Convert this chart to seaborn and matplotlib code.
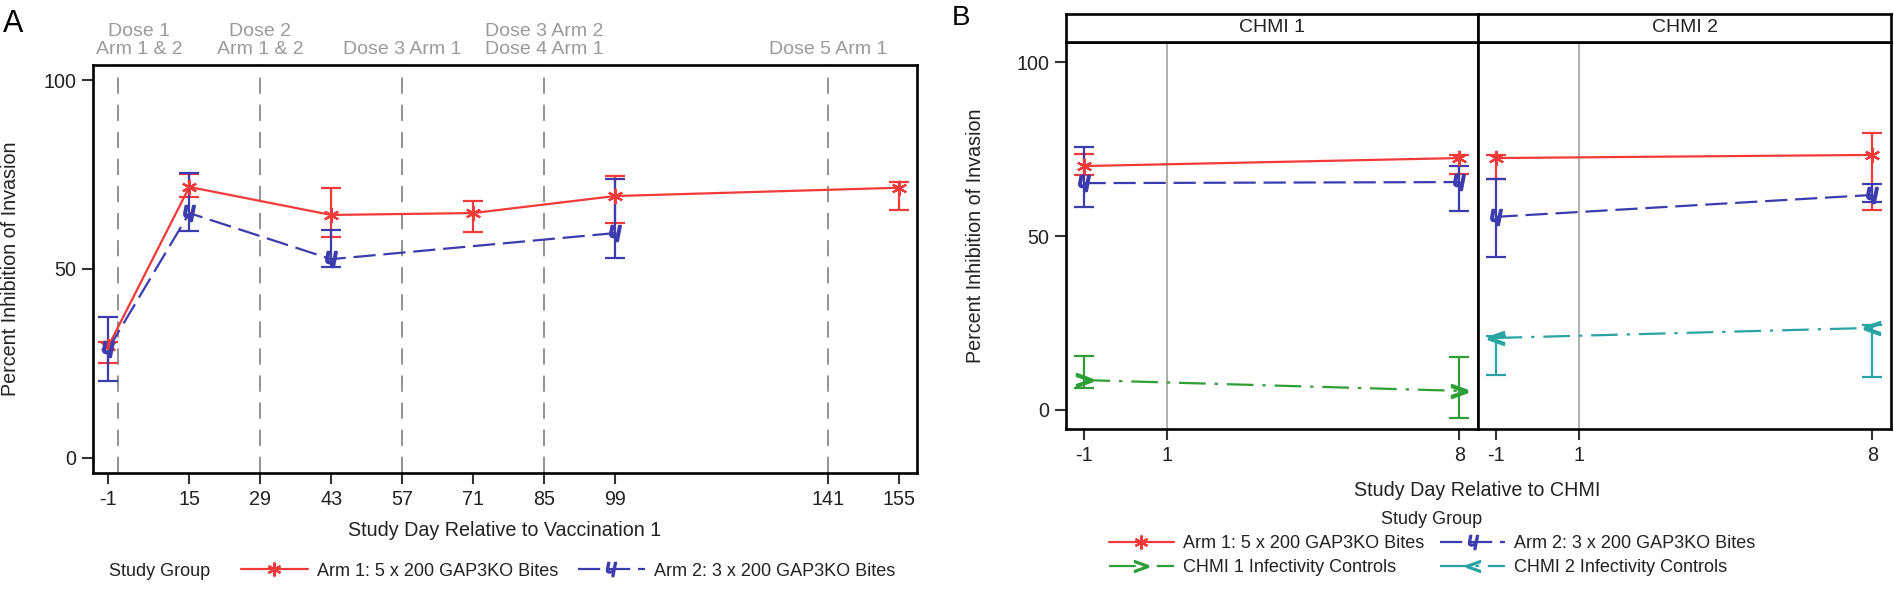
import matplotlib
matplotlib.use('Agg')
import matplotlib.pyplot as plt
import matplotlib.transforms as mtransforms
from matplotlib.lines import Line2D
import pandas as pd
import seaborn as sns

# ---- data: panel A (study day relative to vaccination 1) ----
arm1_label = 'Arm 1: 5 x 200 GAP3KO Bites'
arm2_label = 'Arm 2: 3 x 200 GAP3KO Bites'
ctrl1_label = 'CHMI 1 Infectivity Controls'
ctrl2_label = 'CHMI 2 Infectivity Controls'

days_arm1 = [-1, 15, 43, 71, 99, 155]
arm1_mean = [29.5, 71.7, 64.3, 64.8, 69.3, 71.5]
arm1_lo = [25.1, 69.0, 58.5, 59.8, 62.2, 65.6]
arm1_hi = [30.6, 75.1, 71.5, 68.0, 74.6, 73.0]

days_arm2 = [-1, 15, 43, 99]
arm2_mean = [28.8, 64.8, 52.6, 59.5]
arm2_lo = [20.4, 60.0, 50.5, 53.0]
arm2_hi = [37.3, 75.4, 60.3, 73.8]

dose_days = [1, 29, 57, 85, 141]
dose_labels = ['Dose 1\nArm 1 & 2', 'Dose 2\nArm 1 & 2', 'Dose 3 Arm 1',
               'Dose 3 Arm 2\nDose 4 Arm 1', 'Dose 5 Arm 1']
xticks_a = [-1, 15, 29, 43, 57, 71, 85, 99, 141, 155]

# ---- data: panel B (study day relative to CHMI) ----
chmi_days = [-1, 8]
facets = ['CHMI 1', 'CHMI 2']
arm1_chmi = {'CHMI 1': [70.1, 72.4], 'CHMI 2': [72.4, 73.3]}
arm1_chmi_lo = {'CHMI 1': [67.5, 67.8], 'CHMI 2': [66.4, 57.5]}
arm1_chmi_hi = {'CHMI 1': [73.6, 73.2], 'CHMI 2': [73.2, 79.6]}
arm2_chmi = {'CHMI 1': [65.2, 65.5], 'CHMI 2': [55.5, 61.8]}
arm2_chmi_lo = {'CHMI 1': [58.3, 57.2], 'CHMI 2': [44.0, 59.8]}
arm2_chmi_hi = {'CHMI 1': [75.6, 70.1], 'CHMI 2': [66.4, 65.0]}
ctrl_chmi = {'CHMI 1': [8.6, 5.5], 'CHMI 2': [20.7, 23.6]}
ctrl_chmi_lo = {'CHMI 1': [6.3, -2.3], 'CHMI 2': [10.0, 9.5]}
ctrl_chmi_hi = {'CHMI 1': [15.5, 15.2], 'CHMI 2': [21.4, 24.3]}

RED, BLUE, GREEN, TEAL = '#f23a3a', '#3c3cae', '#2e9e36', '#2aa3a3'
TXT = '#222222'
W, H = 1894, 598
FS_TICK = 14.2
FS_LEG = 13

sns.set_theme(style='ticks')
plt.rcParams['font.family'] = ['Liberation Sans', 'DejaVu Sans']
plt.rcParams['text.color'] = TXT
plt.rcParams['axes.unicode_minus'] = False

fig = plt.figure(figsize=(W / 100, H / 100), dpi=100)


def px_axes(left, top, right, bottom):
    return fig.add_axes([left / W, 1 - bottom / H, (right - left) / W, (bottom - top) / H])


def style_axes(ax):
    for s in ax.spines.values():
        s.set_visible(True)
        s.set_color('black')
        s.set_linewidth(1.9)
    ax.tick_params(length=8, width=1.5, pad=4, labelsize=FS_TICK, colors=TXT, color='#333333')


def draw_points(ax, x, y, lo, hi, color, marker):
    ax.errorbar(x, y, yerr=[[a - b for a, b in zip(y, lo)], [b - a for a, b in zip(y, hi)]],
                fmt='none', ecolor=color, elinewidth=1.6, capsize=7, capthick=1.6, zorder=3)
    ax.plot(x, y, ls='none', marker=marker, ms=11, mew=1.6, color=color, zorder=4)


M_ARM1 = (6, 2, 0)
M_ARM2 = '$\u0265$'

# ---------------- panel A ----------------
df_a = pd.concat([
    pd.DataFrame({'day': days_arm1, 'pct': arm1_mean, 'group': arm1_label}),
    pd.DataFrame({'day': days_arm2, 'pct': arm2_mean, 'group': arm2_label}),
])
ax = px_axes(93, 65, 917, 473)
for d in dose_days:
    ax.axvline(d, color='#8a8a8a', lw=1.3, ls=(0, (9, 6)), zorder=0)
sns.lineplot(data=df_a, x='day', y='pct', hue='group', style='group',
             palette={arm1_label: RED, arm2_label: BLUE},
             dashes={arm1_label: '', arm2_label: (10, 3.5)},
             lw=1.6, ax=ax, legend=False, sort=False, errorbar=None)
draw_points(ax, days_arm1, arm1_mean, arm1_lo, arm1_hi, RED, M_ARM1)
draw_points(ax, days_arm2, arm2_mean, arm2_lo, arm2_hi, BLUE, M_ARM2)
ax.set_xlim(-4, 158.6)
ax.set_ylim(-3.97, 103.97)
ax.set_xticks(xticks_a)
ax.set_yticks([0, 50, 100])
style_axes(ax)
ax.set_xlabel('Study Day Relative to Vaccination 1', fontsize=FS_TICK, color=TXT)
ax.set_ylabel('Percent Inhibition of Invasion', fontsize=FS_TICK, color=TXT)
ax.xaxis.set_label_coords(0.5, -0.118)
ax.yaxis.set_label_coords(-0.088, 0.5)

trans = mtransforms.blended_transform_factory(ax.transData, ax.transAxes)
for i, (d, lab) in enumerate(zip(dose_days, dose_labels)):
    dx = 15 if i == 0 else 0
    ax.annotate(lab, xy=(d, 1.0), xycoords=trans, xytext=(dx, 5), textcoords='offset points',
                ha='center', va='bottom', fontsize=14, color='#9a9a9a',
                multialignment='center', linespacing=1.1)

fig.text(109 / W, 1 - 571 / H, 'Study Group', fontsize=FS_LEG, va='center', ha='left')
handles_a = [
    Line2D([], [], color=RED, lw=1.6, marker=M_ARM1, ms=10, mew=1.6),
    Line2D([], [], color=BLUE, lw=1.6, ls=(0, (10, 3.5)), marker=M_ARM2, ms=10, mew=1.2),
]
fig.legend(handles_a, [arm1_label, arm2_label], ncol=2, loc='center left',
           bbox_to_anchor=(241 / W, 1 - 571 / H), frameon=False, fontsize=FS_LEG,
           handlelength=3.7, handletextpad=0.5, columnspacing=1.1,
           borderpad=0, borderaxespad=0)

fig.text(3 / W, 1 - 24 / H, 'A', fontsize=22, va='center', ha='left', color='black')
fig.text(952 / W, 1 - 18 / H, 'B', fontsize=20, va='center', ha='left', color='black')

# ---------------- panel B ----------------
boxes = {'CHMI 1': (1066, 1478), 'CHMI 2': (1478, 1891)}
for k, fac in enumerate(facets):
    left, right = boxes[fac]
    axb = px_axes(left, 42, right, 429)
    axb.axvline(1, color='#9a9a9a', lw=1.1, zorder=0)
    df_b = pd.concat([
        pd.DataFrame({'day': chmi_days, 'pct': arm1_chmi[fac], 'group': arm1_label}),
        pd.DataFrame({'day': chmi_days, 'pct': arm2_chmi[fac], 'group': arm2_label}),
        pd.DataFrame({'day': chmi_days, 'pct': ctrl_chmi[fac], 'group': 'ctrl'}),
    ])
    ctrl_color = GREEN if k == 0 else TEAL
    sns.lineplot(data=df_b, x='day', y='pct', hue='group', style='group',
                 palette={arm1_label: RED, arm2_label: BLUE, 'ctrl': ctrl_color},
                 dashes={arm1_label: '', arm2_label: (10, 3.5), 'ctrl': (12, 4, 1.5, 4)},
                 lw=1.6, ax=axb, legend=False, sort=False, errorbar=None)
    draw_points(axb, chmi_days, arm1_chmi[fac], arm1_chmi_lo[fac], arm1_chmi_hi[fac], RED, M_ARM1)
    draw_points(axb, chmi_days, arm2_chmi[fac], arm2_chmi_lo[fac], arm2_chmi_hi[fac], BLUE, M_ARM2)
    draw_points(axb, chmi_days, ctrl_chmi[fac], ctrl_chmi_lo[fac], ctrl_chmi_hi[fac],
                ctrl_color, '$>$' if k == 0 else '$<$')
    axb.set_xlim(-1.42, 8.45)
    axb.set_ylim(-5.46, 105.75)
    axb.set_xticks([-1, 1, 8])
    style_axes(axb)
    axb.set_xlabel('')
    if k == 0:
        axb.set_yticks([0, 50, 100])
        axb.set_ylabel('Percent Inhibition of Invasion', fontsize=FS_TICK, color=TXT)
        axb.yaxis.set_label_coords(-0.197, 0.5)
    else:
        axb.set_yticks([])
        axb.set_ylabel('')
    strip = px_axes(left, 14, right, 42)
    strip.set_xticks([])
    strip.set_yticks([])
    for s in strip.spines.values():
        s.set_color('black')
        s.set_linewidth(1.9)
    strip.text(0.5, 0.5, fac, ha='center', va='center', fontsize=14, color=TXT,
               transform=strip.transAxes)

fig.text(1477 / W, 1 - 491 / H, 'Study Day Relative to CHMI', fontsize=FS_TICK,
         ha='center', va='center')
handles_b = [
    Line2D([], [], color=RED, lw=1.6, marker=M_ARM1, ms=10, mew=1.6),
    Line2D([], [], color=GREEN, lw=1.6, ls=(0, (12, 4, 1.5, 4)), marker='$>$', ms=10),
    Line2D([], [], color=BLUE, lw=1.6, ls=(0, (10, 3.5)), marker=M_ARM2, ms=10, mew=1.2),
    Line2D([], [], color=TEAL, lw=1.6, ls=(0, (12, 4, 1.5, 4)), marker='$<$', ms=10),
]
fig.legend(handles_b, [arm1_label, ctrl1_label, arm2_label, ctrl2_label], ncol=2,
           loc='upper center', bbox_to_anchor=(1432 / W, 1 - 511 / H), frameon=False,
           fontsize=FS_LEG, title='Study Group', title_fontsize=FS_LEG,
           handlelength=3.6, handletextpad=0.5, columnspacing=0.9, labelspacing=0.4,
           borderpad=0, borderaxespad=0)

fig.savefig('out.png', dpi=100)
